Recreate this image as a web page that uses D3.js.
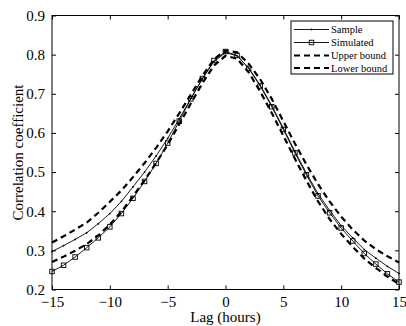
<!DOCTYPE html>
<html><head><meta charset="utf-8">
<script src="https://cdn.jsdelivr.net/npm/d3@7"></script>
<style>body{margin:0;background:#fff}svg{display:block}text{font-family:"Liberation Serif","Times New Roman",serif;fill:#000}</style>
</head><body><svg id="c" width="406" height="326"></svg>
<script>
const lags = d3.range(-15, 16);
const sample = [0.297,0.312,0.328,0.345,0.368,0.394,0.425,0.462,0.500,0.541,0.586,0.636,0.688,0.738,0.782,0.805,0.797,0.766,0.722,0.670,0.612,0.553,0.497,0.445,0.402,0.363,0.332,0.302,0.280,0.259,0.241];
const simulated = [0.246,0.262,0.283,0.307,0.332,0.360,0.394,0.433,0.476,0.522,0.574,0.630,0.687,0.739,0.785,0.808,0.798,0.765,0.720,0.667,0.609,0.549,0.493,0.439,0.396,0.357,0.324,0.292,0.265,0.240,0.219];
const upper = [0.320,0.336,0.353,0.371,0.396,0.424,0.453,0.487,0.523,0.562,0.604,0.650,0.698,0.746,0.788,0.811,0.806,0.777,0.737,0.687,0.630,0.573,0.519,0.469,0.425,0.386,0.353,0.325,0.303,0.285,0.269];
const lower = [0.270,0.284,0.299,0.316,0.338,0.366,0.399,0.438,0.479,0.523,0.570,0.622,0.675,0.727,0.772,0.797,0.790,0.755,0.706,0.651,0.593,0.534,0.478,0.425,0.380,0.342,0.309,0.279,0.255,0.233,0.214];
const xTicks = [-15,-10,-5,0,5,10,15];
const yTicks = [0.2,0.3,0.4,0.5,0.6,0.7,0.8,0.9];
const legendLabels = ["Sample","Simulated","Upper bound","Lower bound"];

const L=52, R=399, T=15.5, B=289.5;
const svg = d3.select("#c");
const x = d3.scaleLinear().domain([-15,15]).range([L,R]);
const y = d3.scaleLinear().domain([0.2,0.9]).range([B,T]);
const fmtX = d => d<0 ? "\u2212"+Math.abs(d) : String(d);

// frame
svg.append("rect").attr("x",L).attr("y",T).attr("width",R-L).attr("height",B-T).attr("fill","none").attr("stroke","#000").attr("stroke-width",1);
const tl=4;
const gx = svg.append("g").attr("transform",`translate(0,${B})`).call(d3.axisBottom(x).tickValues(xTicks).tickSizeInner(-tl).tickSizeOuter(0).tickPadding(7).tickFormat(fmtX));
const gxt = svg.append("g").attr("transform",`translate(0,${T})`).call(d3.axisTop(x).tickValues(xTicks).tickSizeInner(-tl).tickSizeOuter(0).tickFormat(""));
const gy = svg.append("g").attr("transform",`translate(${L},0)`).call(d3.axisLeft(y).tickValues(yTicks).tickSizeInner(-tl).tickSizeOuter(0).tickPadding(7).tickFormat(d3.format(".1f")));
const gyr = svg.append("g").attr("transform",`translate(${R},0)`).call(d3.axisRight(y).tickValues(yTicks).tickSizeInner(-tl).tickSizeOuter(0).tickFormat(""));
[gx,gxt,gy,gyr].forEach(g=>{g.select(".domain").remove();g.selectAll("line").attr("stroke","#000");g.selectAll("text").attr("font-size",15).attr("font-family","Liberation Serif").attr("fill","#000");});

svg.append("text").attr("x",(L+R)/2).attr("y",322).attr("text-anchor","middle").attr("font-size",15).text("Lag (hours)");
svg.append("text").attr("transform",`translate(23,${(T+B)/2}) rotate(-90)`).attr("text-anchor","middle").attr("font-size",15).text("Correlation coefficient");

const line = d3.line().x((d,i)=>x(lags[i])).y(d=>y(d));
const plot = svg.append("g");
plot.append("path").datum(upper).attr("d",line).attr("fill","none").attr("stroke","#000").attr("stroke-width",2.2).attr("stroke-dasharray","6,4");
plot.append("path").datum(lower).attr("d",line).attr("fill","none").attr("stroke","#000").attr("stroke-width",2.2).attr("stroke-dasharray","6,4");
plot.append("path").datum(sample).attr("d",line).attr("fill","none").attr("stroke","#000").attr("stroke-width",0.9);
plot.selectAll(".sd").data(sample).enter().append("circle").attr("cx",(d,i)=>x(lags[i])).attr("cy",d=>y(d)).attr("r",0.9).attr("fill","#000");
plot.append("path").datum(simulated).attr("d",line).attr("fill","none").attr("stroke","#000").attr("stroke-width",0.9);
const s=4.5;
plot.selectAll(".sq").data(simulated).enter().append("rect").attr("x",(d,i)=>x(lags[i])-s/2).attr("y",d=>y(d)-s/2).attr("width",s).attr("height",s).attr("fill","none").attr("stroke","#000").attr("stroke-width",0.9);

// legend
const lg = svg.append("g");
lg.append("rect").attr("x",291).attr("y",21).attr("width",102).attr("height",53).attr("fill","#fff").attr("stroke","#000").attr("stroke-width",1);
const ly = [29.5,42.5,55.5,68];
legendLabels.forEach((lab,i)=>{
  const yy = ly[i];
  const ln = lg.append("line").attr("x1",294).attr("x2",329).attr("y1",yy).attr("y2",yy).attr("stroke","#000");
  if(i<2){ln.attr("stroke-width",0.9);} else {ln.attr("stroke-width",2.2).attr("stroke-dasharray","6,4");}
  if(i===0) lg.append("circle").attr("cx",311.5).attr("cy",yy).attr("r",0.9).attr("fill","#000");
  if(i===1) lg.append("rect").attr("x",311.5-s/2).attr("y",yy-s/2).attr("width",s).attr("height",s).attr("fill","none").attr("stroke","#000").attr("stroke-width",0.9);
  lg.append("text").attr("x",331).attr("y",yy+3.5).attr("font-size",10.5).text(lab);
});
</script></body></html>
